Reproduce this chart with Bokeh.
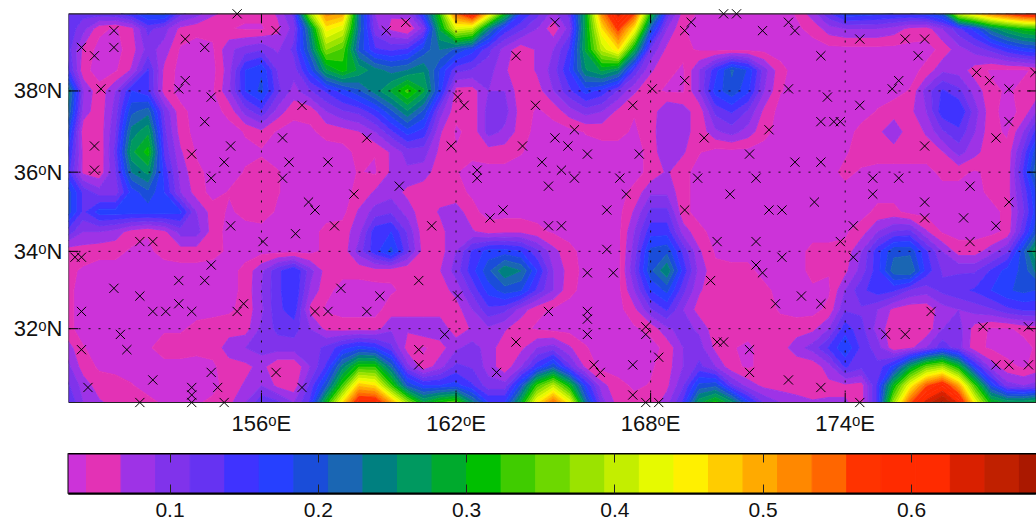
import math
from bokeh.plotting import figure
from bokeh.layouts import column
from bokeh.models import Range1d, FixedTicker, LinearAxis
from bokeh.embed import file_html
from bokeh.resources import INLINE

lon_nodes = [150 + 0.5 * i for i in range(61)]
lat_nodes = [30.05, 30.5, 31, 31.5, 32, 32.5, 33, 33.5, 34, 34.5, 35, 35.5, 36, 36.5, 37, 37.5, 38, 38.5, 39, 39.5, 39.85]

m = .035
z_3985 = [.13,.12,.125,.13,.15,.185,.19,.12,.10,.07, .06,.05,.05,.07,.12,.38,.52,.50,.22,.09, .07,.08,.17,.32,.54,.62,.46,.30,.16,.12, .08,.12,.28,.52,.64,.56,.30,.13,.055,.04, m,m,m,m,m,.045,.08,.13,.175,.17, .165,.16,.16,.17,.2,.40,.46,.52,.56,.6, .62]
z_3950 = [.13,.10,.05,.04,.06,.12,.10,.06,.05,.05, .045,.04,.04,.06,.10,.25,.45,.42,.22,.10, .06,.04,.10,.28,.42,.40,.24,.15,.12,.09, .05,.10,.28,.46,.57,.45,.2,.09,.045,m, m,m,m,m,m,.04,.05,.08,.09,.09, .09,.08,.06,.055,.09,.13,.17,.24,.28,.31, .32]
z_3900 = [.13,.06,m,m,.055,.10,.08,.04,m,.04, .085,.10,.11,.085,.12,.22,.37,.34,.2,.14, .13,.14,.19,.23,.2,.17,.12,.08,.05,.07, .09,.14,.28,.4,.46,.28,.11,.06,.05,.04, m,m,m,m,m,m,m,m,m,m, m,m,m,m,.05,.08,.1,.12,.15,.17, .18]
z_3850 = [.15,.05,m,.04,.07,.14,.06,m,m,m, .08,.16,.18,.11,.10,.17,.27,.31,.27,.24, .22,.23,.25,.18,.12,.11,.10,.07,.05,.07, .10,.16,.25,.28,.25,.13,.07,.05,.04,.09, .15,.21,.18,.10,.05,m,m,m,m,m, m,m,m,.05,.085,.08,.055,.04,.04,.04, .05]
z_3800 = [.26,.09,.05,.09,.16,.14,.055,m,m,.04, .085,.16,.19,.12,.08,.11,.14,.17,.2,.24, .28,.33,.28,.17,.055,.055,.09,.09,.05,.055, .09,.13,.17,.15,.11,.07,.05,.04,.04,.09, .17,.2,.165,.09,.045,m,m,m,m,m, m,m,.045,.1,.14,.12,.08,.05,.04,.05, .06]
z_3750 = [.24,.08,.05,.10,.2,.22,.11,.05,m,m, .05,.1,.13,.08,.05,.05,.09,.11,.12,.15, .2,.25,.2,.1,.05,.05,.1,.1,.055,.04, .05,.08,.1,.09,.06,.045,.05,.09,.08,.05, .12,.14,.11,.06,m,m,m,m,m,m, .045,.055,.06,.09,.15,.16,.1,.05,m,.05, .1]
z_3700 = [.2,.05,.05,.11,.24,.27,.12,.055,m,m, m,.045,.06,.04,m,.04,.05,.055,.065,.09, .13,.17,.15,.07,.04,.05,.1,.085,.055,m, m,m,.045,.05,.05,.04,.055,.09,.08,.05, .085,.10,.08,.05,m,m,m,m,m,.05, .06,.085,.05,.07,.11,.13,.09,.05,.04,.09, .16]
z_3650 = [.17,.06,.045,.12,.27,.31,.13,.07,.04,m, m,.04,.04,m,m,m,m,m,.05,.045, .07,.1,.1,.06,.045,.05,.055,.055,.045,m, m,m,m,m,m,m,.05,.09,.07,.045, m,m,m,m,m,m,m,m,.04,.055, .055,.055,.055,.055,.065,.1,.075,.05,.05,.12, .22]
z_3600 = [.15,.06,.05,.11,.23,.26,.15,.08,.05,m, m,.045,.055,.045,m,m,m,m,.045,.04, .07,.085,.08,.05,.045,m,m,m,m,m, m,m,m,m,m,m,.05,.07,.05,m, m,m,m,m,m,m,m,m,.05,.04, m,m,m,m,.05,.05,.04,.05,.05,.14, .25]
z_3550 = [.2,.13,.1,.1,.17,.2,.16,.09,.055,m, .045,.06,.06,.045,m,m,m,m,.05,.07, .08,.06,.05,.055,.05,.04,m,m,m,m, m,m,m,m,m,.05,.085,.085,.05,m, m,m,m,m,m,m,m,m,m,m, m,m,m,m,m,m,m,.05,.055,.12, .2]
z_3500 = [.2,.13,.17,.17,.17,.17,.17,.165,.09,.055, .04,.05,.055,.04,m,m,m,m,.07,.1, .11,.08,.05,.07,.08,.05,m,m,m,m, m,m,m,m,m,.07,.12,.12,.05,m, m,m,m,m,m,m,m,m,m,m, .05,.05,m,m,m,m,m,m,.05,.11, .19]
z_3450 = [.13,.09,.09,.08,.055,.045,.06,.1,.1,.055, m,m,m,m,m,m,.05,.055,.08,.15, .16,.11,.05,.055,.09,.07,.055,.06,.06,.05, .04,m,m,m,m,.09,.15,.15,.08,.05, m,m,m,m,m,m,m,m,.04,.055, .09,.115,.12,.07,.04,m,m,m,.05,.13, .22]
z_3400 = [.05,.055,.05,.05,.04,.04,.05,.055,.055,.05, .04,m,m,m,m,m,.05,.05,.1,.15, .19,.12,.055,.055,.09,.14,.17,.17,.16,.12, .075,.05,m,m,m,.1,.19,.2,.13,.07, .04,m,m,m,m,m,.05,.05,.05,.09, .15,.2,.2,.14,.09,.055,.055,.08,.11,.2, .3]
z_3350 = [.05,.04,m,m,m,m,m,m,m,m, m,.05,.085,.13,.16,.1,.055,.05,.05,.055, .05,.045,.055,.065,.1,.15,.2,.25,.23,.16, .09,.055,m,m,m,.11,.2,.25,.15,.08, .05,.05,.05,m,m,m,.05,.045,.06,.1, .15,.22,.23,.15,.11,.11,.11,.14,.17,.19, .25]
z_3300 = [.05,m,m,m,m,m,m,m,m,m, m,.05,.09,.13,.16,.085,.05,m,m,m, .04,.05,.055,.055,.075,.12,.17,.195,.185,.13, .09,.05,m,m,m,.09,.16,.19,.12,.07, .05,.06,.055,.05,m,m,.04,.04,.09,.13, .15,.14,.11,.1,.12,.13,.14,.16,.18,.19, .18]
z_3250 = [.05,m,m,m,m,m,m,m,m,m, .04,.05,.085,.13,.15,.06,.04,m,m,m, .055,.065,.055,.055,.055,.09,.13,.12,.08,.05, .04,m,m,m,m,.06,.11,.14,.09,.055, .05,.055,.055,.055,.04,m,m,.05,.11,.11, .09,.06,.05,.05,.08,.09,.1,.11,.13,.14, .14]
z_3200 = [.05,m,m,m,m,m,.04,.04,.05,.055, .055,.055,.095,.12,.125,.09,.06,.055,.055,.055, .085,.07,.085,.085,.05,.07,.085,.07,.05,.04, m,m,m,m,m,.04,.05,.085,.1,.085, .05,.05,.05,.05,.055,.055,.06,.09,.15,.12, .08,.05,.05,.05,.09,.1,.055,.04,.04,.05, .055]
z_3150 = [.08,.045,m,m,m,.04,.055,.055,.05,.05, .08,.09,.1,.1,.1,.1,.12,.15,.17,.16, .12,.055,.04,.055,.085,.1,.08,.05,.06,.09, .1,.07,.045,m,m,m,m,.05,.09,.1, .06,.045,.04,.05,.055,.08,.1,.14,.18,.13, .1,.05,.06,.09,.13,.1,.05,.04,m,m, .05]
z_3100 = [.1,.055,.04,m,m,m,m,m,m,.04, .055,.06,.075,.045,.045,.09,.14,.24,.32,.32, .22,.1,.05,.08,.12,.11,.08,.05,.09,.15, .2,.12,.06,m,m,m,.04,.055,.09,.12, .09,.05,.04,.05,.05,.05,.05,.08,.14,.12, .12,.17,.27,.35,.38,.3,.16,.08,.05,.04, .055]
z_3050 = [.12,.08,.055,.055,.045,m,m,m,m,m, .055,.07,.09,.06,.05,.12,.2,.33,.48,.46, .33,.2,.16,.16,.17,.14,.1,.1,.19,.33, .4,.3,.16,.075,.05,.04,.045,.06,.11,.19, .2,.12,.08,.06,.055,.05,.05,.06,.06,.055, .14,.3,.44,.55,.6,.5,.33,.18,.1,.09, .1]
z_3005 = [.14,.09,.07,.06,.05,.05,.04,.04,.04,.05, .06,.09,.13,.12,.09,.14,.3,.46,.6,.6, .5,.38,.28,.32,.34,.24,.16,.16,.28,.45, .54,.44,.22,.1,.055,.05,.05,.08,.14,.27, .31,.26,.17,.11,.09,.08,.07,.07,.07,.055, .14,.38,.55,.64,.68,.62,.44,.3,.27,.27, .29]
z_rows = [z_3005, z_3050, z_3100, z_3150, z_3200, z_3250, z_3300, z_3350, z_3400, z_3450, z_3500,
          z_3550, z_3600, z_3650, z_3700, z_3750, z_3800, z_3850, z_3900, z_3950, z_3985]

levels = [0, .0437, .0670, .0903, .1136, .1369, .1602, .1835, .2068, .2301, .2534, .2767, .3000, .3233, .3466,
          .3699, .3932, .4165, .4398, .4631, .4864, .5097, .5330, .5563, .5796, .6029, .6262, .6495, .6728, .72]
colors = ["#CC33D9", "#E332B5", "#9E33E6", "#8033EB", "#6633F2", "#3F33FF", "#2640FF", "#1A4DD9", "#1A66B3",
          "#008080", "#009960", "#00AA2D", "#00BF00", "#40CC00", "#6DD800", "#9BE300", "#C3EE00", "#E6FA00",
          "#FFF000", "#FFCC00", "#FFAA00", "#FF8800", "#FF6600", "#FF3300", "#FF2B00", "#FF2B00", "#D92000",
          "#C02000", "#AA1800"]

marker_lon = [155.25,151.45,156.45,159.85,153.65,150.45,151.45,154.25,150.85,153.65,151.05,153.45,154.45,157.25,154.25,156.65,159.25,150.85,155.05,153.85,154.85,156.85,158.05,150.85,154.45,156.65,158.85,157.45,157.65,
 160.45,165.05,169.25,169.05,163.85,169.05,168.05,162.05,162.25,164.45,167.45,165.65,165.05,169.65,161.85,164.05,165.45,166.05,167.65,164.65,162.65,165.25,162.65,165.65,167.05,169.45,160.25,164.85,167.25,163.45,166.65,169.05,
 170.25,170.65,172.25,171.45,172.45,174.45,175.85,176.45,173.25,176.25,178.05,179.85,175.65,178.45,172.25,175.45,179.05,173.45,174.45,173.25,173.65,173.85,179.05,171.65,178.65,176.45,171.05,172.45,173.25,171.25,174.85,175.65,177.85,170.45,174.85,173.05,176.45,179.05,171.65,172.05,
 155.05,158.25,157.05,152.25,152.65,156.05,150.25,150.45,154.45,153.45,154.25,151.45,158.45,152.25,159.65,153.45,155.45,150.45,152.65,153.05,153.85,155.25,157.65,158.05,159.25,151.65,150.45,151.85,154.45,156.45,152.65,150.65,153.85,154.65,157.25,153.85,152.25,153.85,154.85,
 163.05,161.25,164.85,165.25,166.65,166.05,166.85,160.85,169.85,162.05,164.85,166.05,166.05,167.85,161.65,166.05,167.85,163.85,160.85,168.25,160.85,166.25,167.45,166.45,163.25,167.45,167.85,168.25,
 176.45,177.65,178.65,174.25,170.05,171.25,173.85,177.85,172.05,174.25,171.25,171.45,172.65,171.85,173.25,176.65,178.25,179.65,175.25,175.85,170.05,170.25,171.05,171.05,178.65,179.05,179.65,172.25,173.25,174.45]
marker_lat = [39.85,39.45,39.45,39.45,39.25,39.05,39.05,39.05,38.85,38.25,38.05,38.05,37.85,37.65,37.25,36.85,36.85,36.65,36.65,36.45,36.25,36.25,36.25,36.05,35.85,35.85,35.45,35.25,35.05,
 39.65,39.65,39.65,39.45,38.85,38.25,38.05,37.85,37.65,37.65,37.65,37.05,36.85,36.85,36.65,36.65,36.65,36.45,36.45,36.25,36.05,36.05,35.85,35.85,35.85,35.85,35.65,35.65,35.45,35.05,35.05,35.05,
 39.85,39.85,39.65,39.45,39.45,39.25,39.25,39.25,38.85,38.85,38.45,38.45,38.25,38.25,38.05,38.05,38.05,37.85,37.65,37.25,37.25,37.25,37.25,37.05,36.85,36.65,36.45,36.25,36.25,35.85,35.85,35.85,35.65,35.45,35.45,35.25,35.25,35.25,35.05,35.05,
 34.65,34.65,34.45,34.25,34.25,34.25,33.85,33.85,33.65,33.25,33.25,33.05,33.05,32.85,32.85,32.65,32.65,32.45,32.45,32.45,32.45,32.45,32.45,32.45,32.45,31.85,31.45,31.45,30.85,30.85,30.65,30.45,30.45,30.45,30.45,30.25,30.05,30.05,30.05,
 34.85,34.65,34.65,34.65,34.05,33.45,33.45,33.25,33.25,32.85,32.45,32.45,32.25,32.05,31.85,31.85,31.85,31.65,31.45,31.25,31.05,31.05,31.05,30.85,30.85,30.25,30.05,30.05,
 34.85,34.85,34.65,34.65,34.25,34.25,34.25,34.25,33.85,33.85,33.65,33.45,32.85,32.65,32.65,32.45,32.05,32.05,31.85,31.85,31.65,31.65,31.45,30.85,31.05,31.05,31.05,30.65,30.45,30.05]

lon_ticks = [156, 162, 168, 174]
lat_ticks = [32, 34, 36, 38]
bar_ticks = [0.1, 0.2, 0.3, 0.4, 0.5, 0.6]

FONT = "Liberation Sans"
SCALE = 32.43            # px per degree of longitude


def merc(lat):
    return math.degrees(math.log(math.tan(math.radians(45 + lat / 2))))


lon0, lat0, lat1 = 150.05, 30.05, 39.85
lon1 = lon0 + 968 / SCALE
y_start = merc(lat0) - 7 / SCALE
y_end = y_start + 401 / SCALE
ylo, yhi = merc(lat0), merc(lat1)

p = figure(frame_width=968, frame_height=401, output_backend="svg", toolbar_location=None,
           x_range=Range1d(lon0, lon1), y_range=Range1d(y_start, y_end),
           min_border_left=68, min_border_right=0, min_border_top=8, min_border_bottom=44)
p.outline_line_color = None
p.grid.visible = False
p.background_fill_color = "white"

p.contour(lon_nodes, [merc(v) for v in lat_nodes], z_rows, levels=levels,
          fill_color=colors, line_color=colors + [colors[-1]], line_width=1)

# dotted graticule
p.multi_line([[v, v] for v in lon_ticks], [[ylo, yhi] for v in lon_ticks], line_color="#111111",
             line_width=1, line_dash="2 8")
p.multi_line([[lon0, lon1] for v in lat_ticks], [[merc(v), merc(v)] for v in lat_ticks], line_color="#111111",
             line_width=1, line_dash="2 8")

# ticks and frame
t = 9.5 / SCALE
p.segment(lon_ticks, [ylo] * 4, lon_ticks, [ylo + t] * 4, line_color="black", line_width=1)
p.segment(lon_ticks, [yhi] * 4, lon_ticks, [yhi - t] * 4, line_color="black", line_width=1)
p.segment([lon0] * 4, [merc(v) for v in lat_ticks], [lon0 + t] * 4, [merc(v) for v in lat_ticks], line_color="black", line_width=1)
p.segment([lon1] * 4, [merc(v) for v in lat_ticks], [lon1 - t] * 4, [merc(v) for v in lat_ticks], line_color="black", line_width=1)
p.line([lon0, lon1 - 0.01, lon1 - 0.01, lon0, lon0], [ylo, ylo, yhi, yhi, ylo], line_color="#222222", line_width=1.2)

p.scatter(marker_lon, [merc(v) for v in marker_lat], marker="x", size=13, line_color="black", line_width=1)

p.xaxis.ticker = FixedTicker(ticks=lon_ticks)
p.xaxis.major_label_overrides = {v: f"{v}\u1d52E" for v in lon_ticks}
p.yaxis.ticker = FixedTicker(ticks=[merc(v) for v in lat_ticks])
p.yaxis.major_label_overrides = {merc(v): f"{v}\u1d52N" for v in lat_ticks}
for ax in (p.xaxis[0], p.yaxis[0]):
    ax.axis_line_color = None
    ax.major_tick_line_color = None
    ax.minor_tick_line_color = None
    ax.major_tick_in = 0
    ax.major_tick_out = 0
    ax.major_label_text_font = FONT
    ax.major_label_text_font_size = "22px"
    ax.major_label_text_color = "#111111"
p.xaxis[0].major_label_standoff = 1
p.yaxis[0].major_label_standoff = 6

x_start = 0.1 + (68 - 169.5) / 1483
x_end = 0.1 + (1036 - 169.5) / 1483
c = figure(frame_width=968, frame_height=40, output_backend="svg", toolbar_location=None,
           x_range=Range1d(x_start, x_end), y_range=Range1d(0, 1),
           min_border_left=68, min_border_right=0, min_border_top=0, min_border_bottom=30)
c.grid.visible = False
c.yaxis.visible = False
c.quad(left=levels[:-1], right=levels[1:], bottom=0, top=1, fill_color=colors, line_color=colors)
c.outline_line_color = "black"
c.outline_line_width = 2
c.xaxis.ticker = FixedTicker(ticks=bar_ticks)
c.xaxis.major_label_overrides = {v: f"{v:.1f}" for v in bar_ticks}
ax = c.xaxis[0]
ax.axis_line_color = "black"
ax.axis_line_width = 2
ax.major_tick_in = 9
ax.major_tick_out = 0
ax.major_tick_line_color = "#222222"
ax.minor_tick_line_color = None
ax.major_label_standoff = 9
ax.major_label_text_font = FONT
ax.major_label_text_font_size = "21px"
ax.major_label_text_color = "#111111"
top = LinearAxis(ticker=FixedTicker(ticks=bar_ticks), major_label_text_font_size="0px", major_tick_in=9, major_tick_out=0,
                 minor_tick_line_color=None, axis_line_color="black", axis_line_width=2, major_tick_line_color="#222222",
                 major_label_standoff=0)
c.add_layout(top, "above")
c.above[0].major_label_text_color = None

layout = column(p, c, spacing=0)
open("out.html", "w").write(file_html(layout, INLINE))
